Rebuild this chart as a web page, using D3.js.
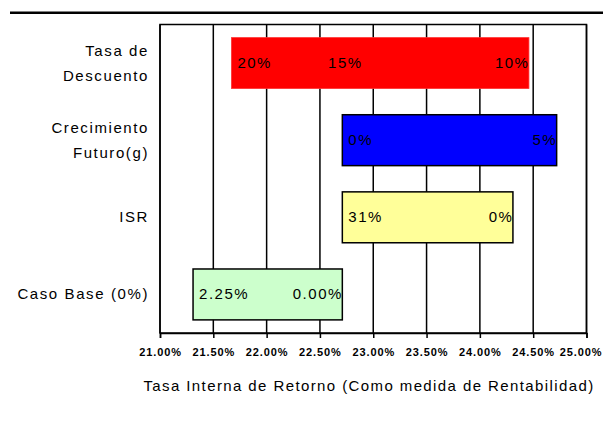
<!DOCTYPE html>
<html>
<head>
<meta charset="utf-8">
<script src="https://cdn.jsdelivr.net/npm/d3@7"></script>
<style>
  body { margin: 0; background: #fff; }
  svg { display: block; font-family: Arial, "Liberation Sans", sans-serif; }
</style>
</head>
<body>
<div id="chart"></div>
<script>
// datos del grafico de sensibilidad (TIR en %)
const categories = ["Tasa de Descuento", "Crecimiento Futuro(g)", "ISR", "Caso Base (0%)"];
const catLines = [["Tasa de", "Descuento"], ["Crecimiento", "Futuro(g)"], ["ISR"], ["Caso Base (0%)"]];
const tirLow = [21.67, 22.71, 22.71, 21.31];
const tirHigh = [24.46, 24.72, 24.31, 22.71];
const leftLabels = ["20%", "0%", "31%", "2.25%"];
const rightLabels = ["10%", "5%", "0%", "0.00%"];
const midLabels = ["15%", "", "", ""];
const baseTir = 22.71;
const barColors = ["#ff0000", "#0000ff", "#ffff99", "#ccffcc"];
const barStroke = ["#ff3333", "#000", "#000", "#000"];
const xTicks = [21, 21.5, 22, 22.5, 23, 23.5, 24, 24.5, 25];
const xTitle = "Tasa Interna de Retorno (Como medida de Rentabilidad)";

const W = 603, H = 421;
const pLeft = 160, pRight = 586.5, pTop = 24.5, pBottom = 333;

const svg = d3.select("#chart").append("svg")
  .attr("width", W).attr("height", H);

// linea superior
svg.append("line")
  .attr("x1", 10).attr("x2", W).attr("y1", 12.7).attr("y2", 12.7)
  .attr("stroke", "#000").attr("stroke-width", 2.6);

const x = d3.scaleLinear().domain([21, 25]).range([pLeft, pRight]);
const y = d3.scaleBand().domain(categories).range([pTop, pBottom])
  .paddingInner(0.34).paddingOuter(0.17);

// rejilla vertical
svg.append("g").selectAll("line")
  .data(xTicks)
  .enter().append("line")
  .attr("x1", d => x(d)).attr("x2", d => x(d))
  .attr("y1", pTop).attr("y2", pBottom)
  .attr("stroke", "#000").attr("stroke-width", 1.5);

// marco
svg.append("rect")
  .attr("x", pLeft).attr("y", pTop)
  .attr("width", pRight - pLeft).attr("height", pBottom - pTop)
  .attr("fill", "none").attr("stroke", "#000").attr("stroke-width", 1.5);

// eje x
const xAxis = svg.append("g")
  .attr("transform", "translate(0," + pBottom + ")")
  .call(d3.axisBottom(x).tickValues(xTicks).tickSize(5).tickPadding(10)
    .tickFormat(d => d.toFixed(2) + "%"));
xAxis.select(".domain").attr("stroke-width", 1.5);
xAxis.selectAll(".tick line").attr("stroke-width", 1.5);
xAxis.selectAll("text")
  .attr("font-size", 11).attr("font-family", "Arial, 'Liberation Sans', sans-serif")
  .attr("font-weight", "bold").attr("letter-spacing", 0.9).attr("fill", "#000");
// la ultima etiqueta queda pegada al borde derecho
xAxis.selectAll(".tick text").filter(d => d === 25)
  .attr("text-anchor", "end").attr("x", W - 1 - x(25));

// barras
svg.append("g").selectAll("rect")
  .data(categories)
  .enter().append("rect")
  .attr("x", (d, i) => x(tirLow[i]))
  .attr("y", d => y(d))
  .attr("width", (d, i) => x(tirHigh[i]) - x(tirLow[i]))
  .attr("height", y.bandwidth())
  .attr("fill", (d, i) => barColors[i])
  .attr("stroke", (d, i) => barStroke[i])
  .attr("stroke-width", (d, i) => i === 0 ? 0.8 : 1.5);

// etiquetas en las barras
const lbl = svg.append("g").attr("font-size", 15).attr("letter-spacing", 1.5).attr("fill", "#000");
categories.forEach((c, i) => {
  const yc = y(c) + y.bandwidth() / 2 + 5;
  lbl.append("text").attr("x", x(tirLow[i]) + 6).attr("y", yc).text(leftLabels[i]);
  lbl.append("text").attr("x", x(tirHigh[i]) + 0.5).attr("y", yc)
    .attr("text-anchor", "end").text(rightLabels[i]);
  if (midLabels[i]) {
    lbl.append("text").attr("x", x(baseTir) + 3).attr("y", yc)
      .attr("text-anchor", "middle").text(midLabels[i]);
  }
});

// etiquetas de categorias
const cat = svg.append("g").attr("font-size", 15).attr("letter-spacing", 1.6)
  .attr("text-anchor", "end").attr("fill", "#000");
catLines.forEach((lines, i) => {
  const yc = y(categories[i]) + y.bandwidth() / 2;
  const t = cat.append("text").attr("x", 149)
    .attr("y", yc - (lines.length - 1) * 12.5 + 5);
  lines.forEach((s, k) => {
    t.append("tspan").attr("x", 149).attr("dy", k === 0 ? 0 : 25).text(s);
  });
});

// titulo eje x
svg.append("text")
  .attr("x", 369).attr("y", 391)
  .attr("text-anchor", "middle")
  .attr("font-size", 15).attr("letter-spacing", 1.4).attr("fill", "#000")
  .text(xTitle);
</script>
</body>
</html>
